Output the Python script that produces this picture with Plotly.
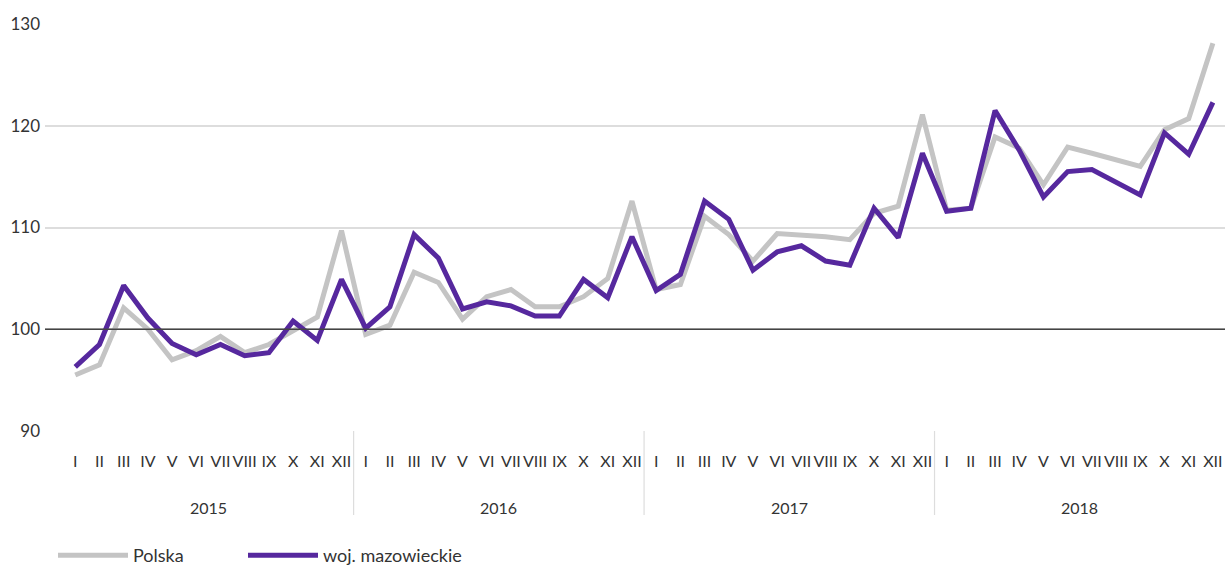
import plotly.graph_objects as go

years = ["2015", "2016", "2017", "2018"]
months = ["I", "II", "III", "IV", "V", "VI", "VII", "VIII", "IX", "X", "XI", "XII"]

polska = [
    95.5, 96.5, 102.1, 100.0, 97.0, 97.9, 99.3, 97.7, 98.5, 99.8, 101.2, 109.7,
    99.5, 100.4, 105.6, 104.6, 101.0, 103.2, 103.9, 102.2, 102.2, 103.2, 105.0, 112.6,
    103.9, 104.4, 111.1, 109.3, 106.7, 109.4, 109.3, 109.1, 108.8, 111.4, 112.1, 121.1,
    111.7, 111.9, 118.9, 117.8, 114.2, 117.9, 117.3, 116.7, 116.0, 119.6, 120.7, 128.1,
]
mazowieckie = [
    96.3, 98.5, 104.3, 101.1, 98.6, 97.5, 98.5, 97.4, 97.7, 100.8, 98.9, 104.9,
    100.1, 102.2, 109.3, 107.0, 102.0, 102.7, 102.3, 101.3, 101.3, 104.9, 103.1, 109.1,
    103.8, 105.4, 112.6, 110.8, 105.8, 107.6, 108.2, 106.7, 106.3, 111.9, 109.0, 117.3,
    111.6, 111.9, 121.5, 117.6, 113.0, 115.5, 115.7, 114.5, 113.2, 119.3, 117.2, 122.3,
]
yticks = [90, 100, 110, 120, 130]

n_m = len(months)
idx = list(range(len(years) * n_m))
month_labels = [m for _ in years for m in months]

FONT = "Lato"
TXT = "#333333"

fig = go.Figure()
fig.add_trace(go.Scatter(
    x=idx, y=polska, name="Polska", mode="lines",
    line=dict(color="#c4c4c4", width=5), legend="legend",
))
fig.add_trace(go.Scatter(
    x=idx, y=mazowieckie, name="woj. mazowieckie", mode="lines",
    line=dict(color="#56289e", width=5), legend="legend2",
))

# reference line at 100
fig.add_shape(type="line", xref="paper", yref="y", x0=0, x1=1, y0=100, y1=100,
              line=dict(color="#444444", width=1.5), layer="above")

plot_h = 407
plot_w = 1180
# year dividers and year labels
for i, yr in enumerate(years):
    center = i * n_m + (n_m - 1) / 2
    fig.add_annotation(x=center, xref="x", y=0, yref="paper", yanchor="middle",
                       yshift=-76, text=yr, showarrow=False,
                       font=dict(family=FONT, size=16, color=TXT))
    if i > 0:
        b = i * n_m - 0.5
        fig.add_shape(type="line", xref="x", yref="paper", x0=b, x1=b,
                      y0=0, y1=-84 / plot_h,
                      line=dict(color="#dddddd", width=1.2))

leg_common = dict(orientation="h", xanchor="left", y=-143 / plot_h, yanchor="bottom",
                  font=dict(family=FONT, size=18, color=TXT), itemwidth=70,
                  bgcolor="rgba(0,0,0,0)")

fig.update_layout(
    width=1227, height=567,
    margin=dict(l=45, r=2, t=24, b=136, autoexpand=False),
    paper_bgcolor="white", plot_bgcolor="white",
    font=dict(family=FONT, color=TXT),
    showlegend=True,
    legend=dict(x=8 / plot_w, **leg_common),
    legend2=dict(x=(8 + 190) / plot_w, **leg_common),
    xaxis=dict(
        range=[-1.25, 47.5],
        tickvals=idx, ticktext=month_labels,
        automargin=False,
        showgrid=False, showline=False, zeroline=False,
        tickfont=dict(family=FONT, size=16, color=TXT),
        tickangle=0,
        ticks="",
        ticklabelstandoff=19,
    ),
    yaxis=dict(
        range=[90, 130], tickvals=yticks,
        automargin=False,
        showgrid=True, gridcolor="#dddddd", gridwidth=1.5,
        zeroline=False, showline=False,
        tickfont=dict(family=FONT, size=17, color=TXT),
        ticklabelstandoff=4,
    ),
)

fig.write_html(
    "out.html",
    config={"displayModeBar": False},
    post_script="document.body.style.margin='0';document.body.style.overflow='hidden';",
)
